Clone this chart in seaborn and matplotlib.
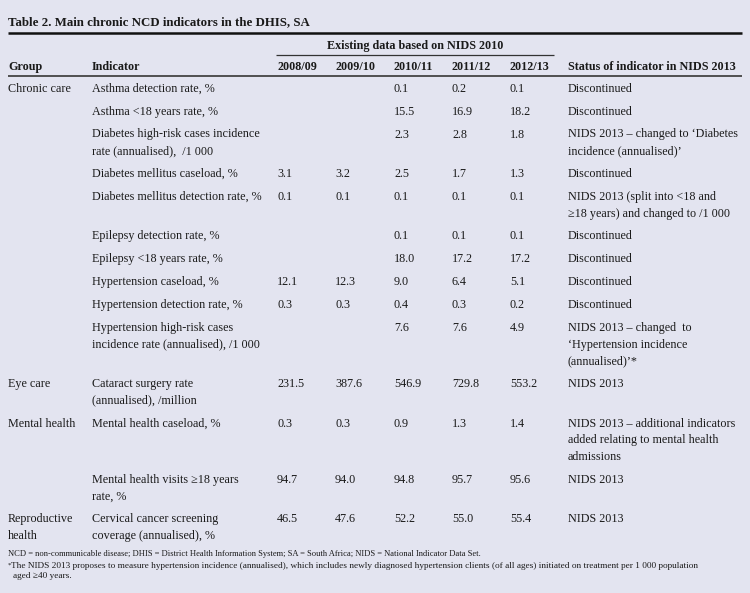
import matplotlib
matplotlib.use("Agg")
import matplotlib.pyplot as plt
import seaborn as sns

# ---------------- data ----------------
title = "Table 2. Main chronic NCD indicators in the DHIS, SA"
span_header = "Existing data based on NIDS 2010"
col_headers = ["Group", "Indicator", "2008/09", "2009/10", "2010/11", "2011/12", "2012/13",
               "Status of indicator in NIDS 2013"]
years = ["2008/09", "2009/10", "2010/11", "2011/12", "2012/13"]

groups = [["Chronic care"], [], [], [], [], [], [], [], [], [],
          ["Eye care"], ["Mental health"], [], ["Reproductive", "health"]]

indicators = [
    ["Asthma detection rate, %"],
    ["Asthma <18 years rate, %"],
    ["Diabetes high-risk cases incidence", "rate (annualised),  /1 000"],
    ["Diabetes mellitus caseload, %"],
    ["Diabetes mellitus detection rate, %"],
    ["Epilepsy detection rate, %"],
    ["Epilepsy <18 years rate, %"],
    ["Hypertension caseload, %"],
    ["Hypertension detection rate, %"],
    ["Hypertension high-risk cases", "incidence rate (annualised), /1 000"],
    ["Cataract surgery rate", "(annualised), /million"],
    ["Mental health caseload, %"],
    ["Mental health visits \u226518 years", "rate, %"],
    ["Cervical cancer screening", "coverage (annualised), %"],
]

v2008 = ["", "", "", "3.1", "0.1", "", "", "12.1", "0.3", "", "231.5", "0.3", "94.7", "46.5"]
v2009 = ["", "", "", "3.2", "0.1", "", "", "12.3", "0.3", "", "387.6", "0.3", "94.0", "47.6"]
v2010 = ["0.1", "15.5", "2.3", "2.5", "0.1", "0.1", "18.0", "9.0", "0.4", "7.6", "546.9", "0.9", "94.8", "52.2"]
v2011 = ["0.2", "16.9", "2.8", "1.7", "0.1", "0.1", "17.2", "6.4", "0.3", "7.6", "729.8", "1.3", "95.7", "55.0"]
v2012 = ["0.1", "18.2", "1.8", "1.3", "0.1", "0.1", "17.2", "5.1", "0.2", "4.9", "553.2", "1.4", "95.6", "55.4"]

status = [
    ["Discontinued"],
    ["Discontinued"],
    ["NIDS 2013 \u2013 changed to \u2018Diabetes", "incidence (annualised)\u2019"],
    ["Discontinued"],
    ["NIDS 2013 (split into <18 and", "\u226518 years) and changed to /1 000"],
    ["Discontinued"],
    ["Discontinued"],
    ["Discontinued"],
    ["Discontinued"],
    ["NIDS 2013 \u2013 changed  to", "\u2018Hypertension incidence", "(annualised)\u2019*"],
    ["NIDS 2013"],
    ["NIDS 2013 \u2013 additional indicators", "added relating to mental health", "admissions"],
    ["NIDS 2013"],
    ["NIDS 2013"],
]

footnote1 = ("NCD = non-communicable disease; DHIS = District Health Information System; "
             "SA = South Africa; NIDS = National Indicator Data Set.")
footnote2 = ("The NIDS 2013 proposes to measure hypertension incidence (annualised), which includes "
             "newly diagnosed hypertension clients (of all ages) initiated on treatment per 1 000 population")
footnote3 = "aged \u226540 years."

# ---------------- layout ----------------
sns.set_theme(style="white")
plt.rcParams["font.family"] = ["Liberation Serif", "DejaVu Serif"]

BG = "#E3E4F0"
W, H = 750, 593
fig = plt.figure(figsize=(7.5, 5.93), dpi=100, facecolor=BG)
ax = fig.add_axes([0, 0, 1, 1])
ax.set_facecolor(BG)
ax.set_xlim(0, W)
ax.set_ylim(H, 0)
ax.axis("off")

FS = 8.75
col_x = [8, 92, 277, 335, 394, 452, 510, 568]
TXT = "#1a1a1a"

# title
ax.text(8, 25, title, fontsize=9.3, fontweight="bold", color=TXT, va="baseline", ha="left")
ax.plot([8, 742], [32.5, 32.5], color="#111111", lw=1.8, solid_capstyle="butt")

# span header
ax.text((276 + 554) / 2, 48.5, span_header, fontsize=FS, fontweight="bold", color=TXT,
        va="baseline", ha="center")
ax.plot([276, 554], [54.5, 54.5], color="#333333", lw=0.9, solid_capstyle="butt")

for x, h in zip(col_x, col_headers):
    ax.text(x, 70, h, fontsize=FS, fontweight="bold", color=TXT, va="baseline", ha="left")
ax.plot([8, 742], [76, 76], color="#444444", lw=1.3, solid_capstyle="butt")

# body
LINE = 16.6
GAP = 22.9
y = 91.7
value_cols = [v2008, v2009, v2010, v2011, v2012]
for i in range(len(indicators)):
    cells = [groups[i], indicators[i]] + [[vc[i]] for vc in value_cols] + [status[i]]
    nlines = max(len(c) for c in cells)
    for x, cell in zip(col_x, cells):
        for k, line in enumerate(cell):
            if line:
                ax.text(x, y + k * LINE, line, fontsize=FS, color=TXT, va="baseline", ha="left")
    y += (nlines - 1) * LINE + GAP

# footnotes
ax.text(8, 556, footnote1, fontsize=6.15, color=TXT, va="baseline", ha="left")
ax.text(8, 566.5, "*", fontsize=5.0, color=TXT, va="baseline", ha="left")
ax.text(11, 567.5, footnote2, fontsize=6.65, color=TXT, va="baseline", ha="left")
ax.text(13, 578.5, footnote3, fontsize=6.65, color=TXT, va="baseline", ha="left")

fig.savefig("out.png", dpi=100, facecolor=BG)
